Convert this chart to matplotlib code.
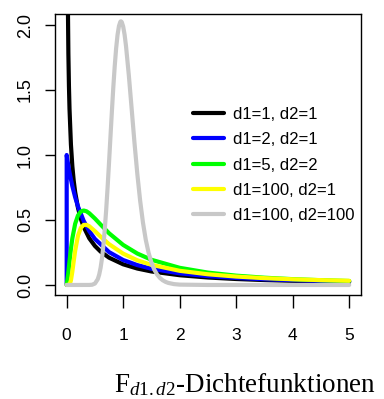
import matplotlib
matplotlib.use("Agg")
import matplotlib.pyplot as plt

# F densities, values
x_11 = [0.01, 0.015, 0.02, 0.03, 0.04, 0.05, 0.075, 0.1, 0.125, 0.15, 0.2, 0.25, 0.3, 0.4, 0.5,
        0.6, 0.75, 1.0, 1.25, 1.5, 2.0, 2.5, 3.0, 3.5, 4.0, 4.5, 5.0]
y_11 = [3.15, 2.56, 2.21, 1.78, 1.53, 1.356, 1.081, 0.915, 0.800, 0.715, 0.593, 0.509, 0.447, 0.359, 0.300,
        0.257, 0.210, 0.159, 0.1265, 0.104, 0.075, 0.0575, 0.0459, 0.0378, 0.0318, 0.0273, 0.0237]

x_21 = [0.0, 0.0, 0.025, 0.05, 0.1, 0.15, 0.2, 0.3, 0.4, 0.5, 0.75, 1.0, 1.25, 1.5, 2.0, 2.5,
        3.0, 3.5, 4.0, 4.5, 5.0]
y_21 = [0.0, 1.0, 0.929, 0.867, 0.761, 0.675, 0.604, 0.494, 0.414, 0.354, 0.253, 0.192, 0.153, 0.125,
        0.0894, 0.068, 0.054, 0.0442, 0.037, 0.0316, 0.0274]

x_52 = [0.0, 0.025, 0.05, 0.075, 0.1, 0.15, 0.2, 0.25, 0.3, 0.35, 0.4, 0.5, 0.6, 0.75, 1.0, 1.25,
        1.5, 2.0, 2.5, 3.0, 3.5, 4.0, 4.5, 5.0]
y_52 = [0.0, 0.079, 0.183, 0.278, 0.358, 0.471, 0.535, 0.565, 0.573, 0.567, 0.552, 0.511, 0.465, 0.398,
        0.308, 0.242, 0.194, 0.132, 0.0952, 0.0717, 0.0559, 0.0448, 0.0367, 0.0306]

x_1001 = [0.0, 0.05, 0.075, 0.1, 0.125, 0.15, 0.2, 0.25, 0.3, 0.35, 0.4, 0.5, 0.6, 0.75, 1.0, 1.25,
          1.5, 2.0, 2.5, 3.0, 3.5, 4.0, 4.5, 5.0]
y_1001 = [0.0, 0.0036, 0.0349, 0.102, 0.185, 0.263, 0.379, 0.439, 0.462, 0.463, 0.452, 0.414, 0.372,
          0.314, 0.241, 0.190, 0.155, 0.109, 0.0823, 0.0647, 0.0526, 0.0438, 0.0373, 0.0322]

x_100100 = [0.0, 0.4, 0.45, 0.5, 0.55, 0.575, 0.6, 0.625, 0.65, 0.675, 0.7, 0.725, 0.75, 0.775, 0.8,
            0.825, 0.85, 0.875, 0.9, 0.925, 0.95, 0.96, 0.975, 1.0, 1.025, 1.05, 1.1, 1.15, 1.2,
            1.25, 1.3, 1.35, 1.4, 1.45, 1.5, 1.55, 1.6, 1.65, 1.7, 1.75, 1.8, 1.9, 2.0, 2.5, 5.0]
y_100100 = [0.0, 0.0002, 0.0019, 0.011, 0.0443, 0.0789, 0.1315, 0.206, 0.306, 0.433, 0.584, 0.757,
            0.946, 1.142, 1.335, 1.520, 1.682, 1.820, 1.924, 1.992, 2.026, 2.029, 2.023, 1.988,
            1.926, 1.838, 1.613, 1.355, 1.094, 0.855, 0.649, 0.480, 0.347, 0.247, 0.172, 0.1186,
            0.0805, 0.0542, 0.0361, 0.0238, 0.0156, 0.0066, 0.00275, 0.0, 0.0]

labels = ["d1=1, d2=1", "d1=2, d2=1", "d1=5, d2=2", "d1=100, d2=1", "d1=100, d2=100"]
colors = ["black", "#0000ff", "#00ff00", "#ffff00", "#c8c8c8"]
xticks = [0, 1, 2, 3, 4, 5]
yticks = [0.0, 0.5, 1.0, 1.5, 2.0]

plt.rcParams["font.family"] = ["Liberation Sans", "DejaVu Sans"]
plt.rcParams["mathtext.fontset"] = "custom"
plt.rcParams["mathtext.rm"] = "Liberation Serif"
plt.rcParams["mathtext.it"] = "Liberation Serif:italic"

fig = plt.figure(figsize=(3.84, 3.99), dpi=100)
ax = fig.add_axes([0.1432, 0.2607, 0.7969, 0.7042])

series = [(x_11, y_11), (x_21, y_21), (x_52, y_52), (x_1001, y_1001), (x_100100, y_100100)]
for (xs, ys), c, lab in zip(series, colors, labels):
    ax.plot(xs, ys, color=c, lw=3, label=lab, solid_capstyle="round", solid_joinstyle="round")

ax.set_xlim(-0.207, 5.209)
ax.set_ylim(-0.077, 2.085)
ax.set_xticks(xticks)
ax.set_xticklabels([str(t) for t in xticks])
ax.set_yticks(yticks)
ax.set_yticklabels(["%.1f" % t for t in yticks], rotation=90, va="center")
ax.tick_params(axis="x", direction="out", length=9.5, width=1, pad=14.5, labelsize=12.5)
ax.tick_params(axis="y", direction="out", length=7.2, width=1, pad=8, labelsize=13)
for s in ax.spines.values():
    s.set_linewidth(1)

leg = ax.legend(loc="upper left", bbox_to_anchor=(193 / 384, 1 - 107 / 399),
                bbox_transform=fig.transFigure, frameon=False, fontsize=12,
                handlelength=1.86, handletextpad=0.55, labelspacing=0.62,
                borderpad=0, borderaxespad=0)
for line in leg.get_lines():
    line.set_linewidth(3)

fig.text(0.638, 1 - 392 / 399, r"F$_{d1.d2}$-Dichtefunktionen", ha="center", va="baseline",
         fontsize=19.5, family="Liberation Serif")

fig.savefig("out.png", dpi=100)
plt.close(fig)
